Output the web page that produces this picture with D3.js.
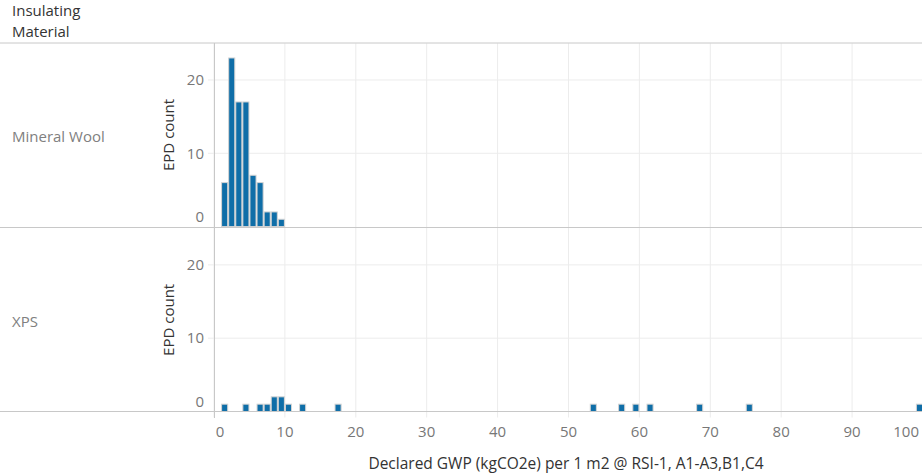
<!DOCTYPE html>
<html>
<head>
<meta charset="utf-8">
<script src="https://cdn.jsdelivr.net/npm/d3@7"></script>
<style>
  html, body { margin: 0; padding: 0; background: #fff; }
  svg { display: block; font-family: "Open Sans", "Noto Sans", sans-serif; }
</style>
</head>
<body>
<svg id="chart" width="922" height="476"></svg>
<script>
// Histogram of declared GWP per insulating material (bin size 1)
const materials = ["Mineral Wool", "XPS"];

const mineralWoolBins   = [1, 2, 3, 4, 5, 6, 7, 8, 9];
const mineralWoolCounts = [6, 23, 17, 17, 7, 6, 2, 2, 1];

const xpsBins   = [1, 4, 6, 7, 8, 9, 10, 12, 17, 53, 57, 59, 61, 68, 75, 99];
const xpsCounts = [1, 1, 1, 1, 2, 2, 1, 1, 1, 1, 1, 1, 1, 1, 1, 1];

const xTicks = [0, 10, 20, 30, 40, 50, 60, 70, 80, 90, 100];
const yTicks = [0, 10, 20];
const binSize = 1;

const rows = [
  { name: materials[0], bins: mineralWoolBins, counts: mineralWoolCounts },
  { name: materials[1], bins: xpsBins, counts: xpsCounts }
];

const W = 922;
const paneLeft = 214, paneRight = 923;
const paneTops = [43.3, 228.2];
const paneHeight = 183.3;

const svg = d3.select("#chart");

const x = d3.scaleLinear().domain([0, 100]).range([paneLeft, paneRight]);

const gridColor = "#ececec";
const lineColor = "#c8c8c8";
const barColor = "#0f6ea8";

// vertical gridlines across both panes
svg.append("g").selectAll("line").data(xTicks).join("line")
  .attr("x1", d => x(d)).attr("x2", d => x(d))
  .attr("y1", paneTops[0]).attr("y2", paneTops[1] + paneHeight + 6)
  .attr("stroke", gridColor).attr("stroke-width", 1);

rows.forEach((row, i) => {
  const top = paneTops[i];
  const y = d3.scaleLinear().domain([0, 25]).range([top + paneHeight, top]);
  const g = svg.append("g");

  // horizontal gridlines
  g.selectAll("line.grid").data(yTicks.filter(t => t > 0)).join("line")
    .attr("class", "grid")
    .attr("x1", paneLeft - 6).attr("x2", W)
    .attr("y1", d => y(d)).attr("y2", d => y(d))
    .attr("stroke", gridColor);

  // y tick labels
  g.selectAll("text.tick").data(yTicks).join("text")
    .attr("class", "tick")
    .attr("x", 204)
    .attr("y", d => d === 0 ? y(d) - 10 : y(d))
    .attr("dy", "0.35em")
    .attr("text-anchor", "end")
    .attr("font-size", 15)
    .attr("fill", "#777")
    .text(d => d);

  // y axis title
  g.append("text")
    .attr("transform", `translate(174,${top + paneHeight / 2}) rotate(-90)`)
    .attr("text-anchor", "middle")
    .attr("font-size", 15)
    .attr("fill", "#333")
    .text("EPD count");

  // row header
  g.append("text")
    .attr("x", 12).attr("y", top + paneHeight / 2 + 2)
    .attr("dy", "0.35em")
    .attr("font-size", 15)
    .attr("fill", "#808080")
    .text(row.name);

  // bars
  const data = row.bins.map((b, k) => ({ bin: b, count: row.counts[k] }));
  g.selectAll("rect").data(data).join("rect")
    .attr("x", d => x(d.bin) + 0.5)
    .attr("width", d => x(d.bin + binSize) - x(d.bin) - 1)
    .attr("y", d => y(d.count))
    .attr("height", d => y(0) - y(d.count))
    .attr("fill", barColor)
    .attr("stroke", "#d4d4d4")
    .attr("stroke-width", 1);
});

// frame lines
svg.append("line").attr("x1", 0).attr("x2", W).attr("y1", 43).attr("y2", 43).attr("stroke", lineColor);
svg.append("line").attr("x1", 0).attr("x2", W).attr("y1", 227.5).attr("y2", 227.5).attr("stroke", lineColor);
svg.append("line").attr("x1", 0).attr("x2", W).attr("y1", 411.5).attr("y2", 411.5).attr("stroke", lineColor);
svg.append("line").attr("x1", 214.5).attr("x2", 214.5).attr("y1", 43).attr("y2", 418).attr("stroke", lineColor);

// x tick labels
const xLabelY = 437;
svg.append("g").selectAll("text").data(xTicks).join("text")
  .attr("x", d => d === 100 ? x(d) - 4 : (d === 0 ? x(d) + 6 : x(d)))
  .attr("y", xLabelY)
  .attr("text-anchor", d => d === 100 ? "end" : "middle")
  .attr("font-size", 15)
  .attr("fill", "#777")
  .text(d => d);

// x axis title
svg.append("text")
  .attr("x", 566).attr("y", 469)
  .attr("text-anchor", "middle")
  .attr("font-size", 15.5)
  .attr("font-weight", 500)
  .attr("fill", "#333")
  .text("Declared GWP (kgCO2e) per 1 m2 @ RSI-1, A1-A3,B1,C4");

// column header
const header = svg.append("text").attr("font-size", 15).attr("font-weight", 500).attr("fill", "#333");
header.append("tspan").attr("x", 12).attr("y", 16).text("Insulating");
header.append("tspan").attr("x", 12).attr("y", 37).text("Material");
</script>
</body>
</html>
